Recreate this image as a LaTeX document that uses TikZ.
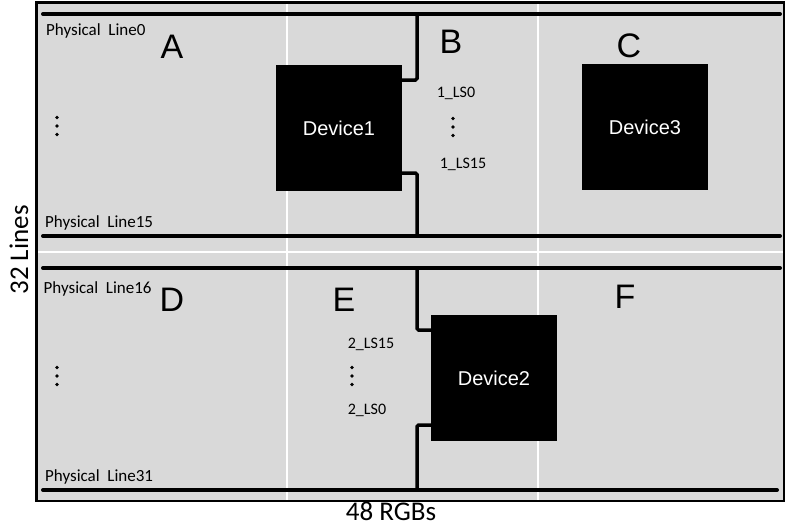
\documentclass[tikz,border=0pt]{standalone}
\usepackage{fontspec}
\setmainfont{Carlito}
\newfontfamily\arialfont{Liberation Sans}
\usepackage{xcolor}
\usepackage{tikz}
\usetikzlibrary{positioning}
\definecolor{panel}{HTML}{D9D9D9}

\begin{document}
\begin{tikzpicture}[
  x=1pt, y=-1pt,
  dev/.style={fill=black, text=white, minimum size=126pt, inner sep=0pt, font=\arialfont\fontsize{20}{24}\selectfont},
  bus/.style={line width=4pt, line cap=round},
  wire/.style={line width=3.5pt, rounded corners=1.5pt},
  sep/.style={white, line width=2pt},
  lbl/.style={anchor=base west, inner sep=0pt, font=\fontsize{17}{20}\selectfont},
  sig/.style={anchor=base, inner sep=0pt, font=\fontsize{16}{19}\selectfont},
  big/.style={anchor=base, inner sep=0pt, font=\arialfont\fontsize{34}{40}\selectfont},
  axis/.style={inner sep=0pt, font=\fontsize{27}{31}\selectfont}
]
\useasboundingbox (0,0) rectangle (788,530);
\draw[line width=2.5pt, fill=panel] (36.5,2.5) rectangle (784,501);
\draw[sep] (287,4) -- (287,500);
\draw[sep] (538,4) -- (538,500);
\draw[sep] (38,252) -- (783,252);

\coordinate (l0w) at (43,14);   \coordinate (l0e) at (780,14);
\coordinate (l15w) at (43,236); \coordinate (l15e) at (780,236);
\coordinate (l16w) at (43,268); \coordinate (l16e) at (780,268);
\coordinate (l31w) at (43,490); \coordinate (l31e) at (777,490);
\draw[bus] (l0w) -- (l0e);
\draw[bus] (l15w) -- (l15e);
\draw[bus] (l16w) -- (l16e);
\draw[bus] (l31w) -- (l31e);

\node[dev] (dev1) at (339,128) {Device1};
\node[dev] (dev2) at (494,378) {Device2};
\node[dev] (dev3) at (645,127) {Device3};

\coordinate (tap1t) at (417,14);
\coordinate (tap1b) at (417,236);
\coordinate (tap2t) at (417,268);
\coordinate (tap2b) at (417,490);
\draw[wire] ([yshift=48pt]dev1.east) -| (tap1t);
\draw[wire] ([yshift=-45pt]dev1.east) -| (tap1b);
\draw[wire] ([yshift=48pt]dev2.west) -| (tap2t);
\draw[wire] ([yshift=-47pt]dev2.west) -| (tap2b);

\node[lbl] (pl0) at (46,35) {Physical\ \ Line0};
\node[lbl] (pl15) at (45,227) {Physical\ \ Line15};
\node[lbl] (pl16) at (43.5,293) {Physical\ \ Line16};
\node[lbl] (pl31) at (45,481) {Physical\ \ Line31};

\node[big] (la) at (172,58) {A};
\node[big] (lb) at (451,53) {B};
\node[big] (lc) at (629,57) {C};
\node[big] (ld) at (172,311) {D};
\node[big] (le) at (344,311) {E};
\node[big] (lf) at (625,308) {F};

\node[sig] (ls1a) at (456,97) {1\_LS0};
\node[sig] (ls1b) at (463,168) {1\_LS15};
\node[sig] (ls2a) at (371,348) {2\_LS15};
\node[sig] (ls2b) at (367,414) {2\_LS0};

\foreach \p in {(57,126),(453,127),(57,376),(352,376)}
  \foreach \k in {-1,0,1}
    \fill \p ++(0,8.5*\k) circle (1.8pt);

\node[axis, rotate=90] (rows) at (19,250) {32 Lines};
\node[axis] (cols) at (391,511) {48 RGBs};
\end{tikzpicture}
\end{document}
